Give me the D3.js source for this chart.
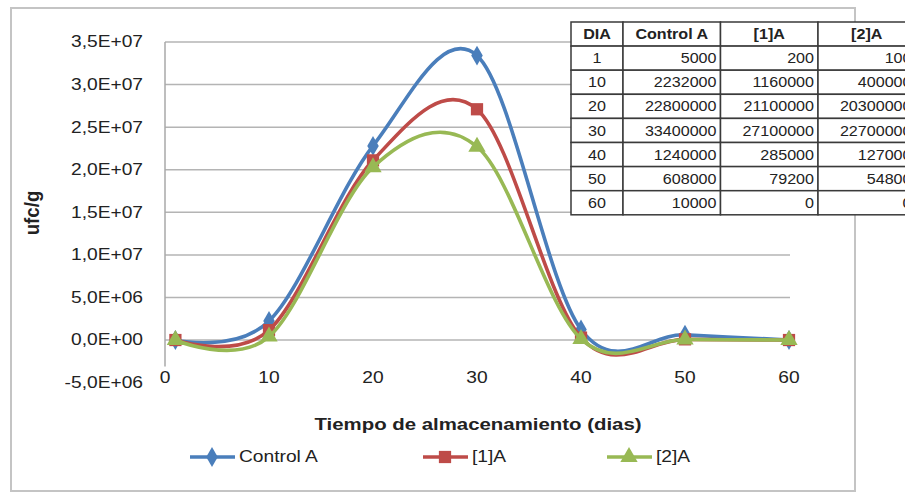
<!DOCTYPE html>
<html>
<head>
<meta charset="utf-8">
<script src="https://cdn.jsdelivr.net/npm/d3@7"></script>
<style>
  body { margin: 0; background: #fff; }
  text { font-family: "Liberation Sans", Arial, sans-serif; fill: #222; }
</style>
</head>
<body>
<div id="chart"></div>
<script>
const width = 905;
const height = 493;

const dias = [1, 10, 20, 30, 40, 50, 60];
const controlA = [5000, 2232000, 22800000, 33400000, 1240000, 608000, 10000];
const unoA = [200, 1160000, 21100000, 27100000, 285000, 79200, 0];
const dosA = [100, 400000, 20300000, 22700000, 127000, 54800, 0];
const seriesNames = ["Control A", "[1]A", "[2]A"];
const seriesValues = [controlA, unoA, dosA];
const seriesColors = ["#4a7ebb", "#be4b48", "#98b954"];
const seriesSymbols = [d3.symbolDiamond, d3.symbolSquare, d3.symbolTriangle];
const symbolSizes = [115, 150, 130];
const xTicks = [0, 10, 20, 30, 40, 50, 60];
const yTicks = d3.range(-5e6, 3.5e7 + 1, 5e6);
const tableHeader = ["DIA", "Control A", "[1]A", "[2]A"];

const SX = 1.2; // the picture's text is wide, stretch it a bit

const svg = d3.select("#chart")
  .append("svg")
  .attr("width", width)
  .attr("height", height);

const x = d3.scaleLinear().domain([0, 60]).range([165, 789]);
const y = d3.scaleLinear().domain([-5e6, 3.5e7]).range([382.6, 42]);

// excel style 3,5E+07
function fmtE(v) {
  const parts = v.toExponential(1).split("e");
  const sign = parts[1][0];
  const exp = parts[1].slice(1).padStart(2, "0");
  return parts[0].replace(".", ",") + "E" + sign + exp;
}

// outer chart border
svg.append("rect")
  .attr("x", 11).attr("y", 8)
  .attr("width", 844).attr("height", 483)
  .attr("fill", "none")
  .attr("stroke", "#c4c4c4")
  .attr("stroke-width", 2);

// gridlines
svg.append("g")
  .selectAll("line")
  .data(yTicks.filter(d => d >= 0))
  .enter().append("line")
  .attr("x1", x(0)).attr("x2", x(60) + 1)
  .attr("y1", d => y(d)).attr("y2", d => y(d))
  .attr("stroke", "#b4b4b4")
  .attr("stroke-width", 1.5);

// vertical axis line
svg.append("line")
  .attr("x1", x(0)).attr("x2", x(0))
  .attr("y1", y(3.5e7)).attr("y2", y(-5e6) - 16)
  .attr("stroke", "#a8a8a8")
  .attr("stroke-width", 1.5);

// y labels
svg.append("g")
  .selectAll("text")
  .data(yTicks)
  .enter().append("text")
  .attr("transform", d => `translate(143,${y(d)}) scale(${SX},1)`)
  .attr("text-anchor", "end")
  .attr("dominant-baseline", "central")
  .style("font-size", "16px")
  .text(d => fmtE(d));

// x labels
svg.append("g")
  .selectAll("text")
  .data(xTicks)
  .enter().append("text")
  .attr("transform", d => `translate(${x(d)},378) scale(${SX},1)`)
  .attr("text-anchor", "middle")
  .attr("dominant-baseline", "central")
  .style("font-size", "16px")
  .text(d => d);

// axis titles
svg.append("text")
  .attr("transform", `translate(32,213) rotate(-90) scale(1.1,1.2)`)
  .attr("text-anchor", "middle")
  .attr("dominant-baseline", "central")
  .style("font-size", "17px")
  .style("font-weight", "bold")
  .text("ufc/g");

svg.append("text")
  .attr("transform", `translate(478,424) scale(${SX},1)`)
  .attr("text-anchor", "middle")
  .attr("dominant-baseline", "central")
  .style("font-size", "17px")
  .style("font-weight", "bold")
  .text("Tiempo de almacenamiento (dias)");

// smoothed lines like excel
const line = d3.line()
  .x(d => x(d.dia))
  .y(d => y(d.v))
  .curve(d3.curveCardinal.tension(0));

seriesValues.forEach((vals, i) => {
  const pts = dias.map((d, j) => ({ dia: d, v: vals[j] }));
  const g = svg.append("g").attr("class", "serie");
  g.append("path")
    .datum(pts)
    .attr("d", line)
    .attr("fill", "none")
    .attr("stroke", seriesColors[i])
    .attr("stroke-width", 3.6);
  g.selectAll(".mark")
    .data(pts)
    .enter().append("path")
    .attr("class", "mark")
    .attr("transform", d => `translate(${x(d.dia)},${y(d.v)})`)
    .attr("d", d3.symbol().type(seriesSymbols[i]).size(symbolSizes[i]))
    .attr("fill", seriesColors[i]);
});

// legend
const legendX = [190, 423, 607];
const legend = svg.append("g").attr("class", "legend");
seriesNames.forEach((name, i) => {
  const lg = legend.append("g").attr("transform", `translate(${legendX[i]},457)`);
  lg.append("line")
    .attr("x1", 0).attr("x2", 45)
    .attr("stroke", seriesColors[i])
    .attr("stroke-width", 3.6);
  lg.append("path")
    .attr("transform", "translate(22,0)")
    .attr("d", d3.symbol().type(seriesSymbols[i]).size(symbolSizes[i]))
    .attr("fill", seriesColors[i]);
  lg.append("text")
    .attr("transform", `translate(49,0) scale(${SX},1)`)
    .attr("dominant-baseline", "central")
    .style("font-size", "16px")
    .text(name);
});

// data table in the corner
const colW = [52, 97.5, 97.5, 97.5];
const colX = [571];
colW.forEach((w, i) => colX.push(colX[i] + w));
const rowH = 24.1;
const tableY = 22;
const rows = [tableHeader].concat(dias.map((d, j) => [d, controlA[j], unoA[j], dosA[j]]));

const table = svg.append("g").attr("class", "table");
rows.forEach((row, r) => {
  row.forEach((cell, c) => {
    table.append("rect")
      .attr("x", colX[c]).attr("y", tableY + r * rowH)
      .attr("width", colW[c]).attr("height", rowH)
      .attr("fill", "#fff")
      .attr("stroke", "#3a3a3a")
      .attr("stroke-width", 1.5);
    const center = r === 0 || c === 0;
    table.append("text")
      .attr("transform", `translate(${center ? colX[c] + colW[c] / 2 : colX[c + 1] - 4},${tableY + r * rowH + rowH / 2}) scale(1.15,1)`)
      .attr("text-anchor", center ? "middle" : "end")
      .attr("dominant-baseline", "central")
      .style("font-size", "14px")
      .style("font-weight", r === 0 ? "bold" : "normal")
      .text(cell);
  });
});
</script>
</body>
</html>
